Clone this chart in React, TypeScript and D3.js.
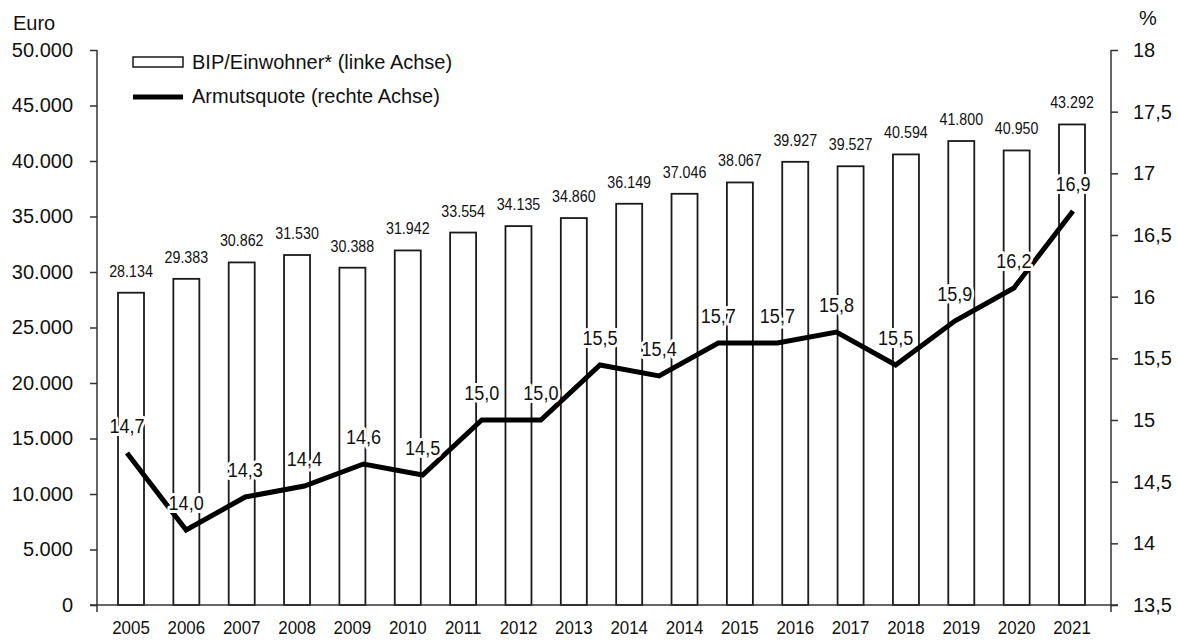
import React, { useEffect, useRef } from "react";
import * as d3 from "d3";

// ---- data ----
const years: string[] = [
  "2005", "2006", "2007", "2008", "2009", "2010", "2011", "2012", "2013",
  "2014", "2014", "2015", "2016", "2017", "2018", "2019", "2020", "2021",
];
const gdpPerCapita: number[] = [
  28134, 29383, 30862, 31530, 30388, 31942, 33554, 34135, 34860,
  36149, 37046, 38067, 39927, 39527, 40594, 41800, 40950, 43292,
];
const povertyRate: number[] = [
  14.7, 14.0, 14.3, 14.4, 14.6, 14.5, 15.0, 15.0, 15.5,
  15.4, 15.7, 15.7, 15.8, 15.5, 15.9, 16.2, 16.9,
];
const leftTicks: number[] = [0, 5000, 10000, 15000, 20000, 25000, 30000, 35000, 40000, 45000, 50000];
const rightTicks: number[] = [13.5, 14, 14.5, 15, 15.5, 16, 16.5, 17, 17.5, 18];
const legendLabels: string[] = ["BIP/Einwohner* (linke Achse)", "Armutsquote (rechte Achse)"];
const leftUnit = "Euro";
const rightUnit = "%";

const W = 1178;
const H = 641;
const SANS = "'Liberation Sans', Arial, Helvetica, sans-serif";
const INK = "#111";

const de = d3.formatLocale({ decimal: ",", thousands: ".", grouping: [3], currency: ["", " €"] });
const fmtThousands = de.format(",");
const fmtOne = de.format(".1f");
const fmtRight = (v: number) => (Number.isInteger(v) ? String(v) : fmtOne(v));

export default function App() {
  const ref = useRef<SVGSVGElement>(null);

  useEffect(() => {
    const svg = d3.select(ref.current);
    svg.selectAll("*").remove();

    const left = 97;
    const right = 1111;
    const top = 50;
    const base = 605;

    const yLeft = d3.scaleLinear().domain([0, 50000]).range([base, top]);
    const yRight = d3.scaleLinear().domain([13.5, 18]).range([base, top]);
    // the published line is drawn on a slightly compressed version of the right scale
    const yLine = d3.scaleLinear().domain([13.5, 18]).range([585, 90]);
    const xBar = d3.scalePoint<number>().domain(d3.range(years.length)).range([131, 1072]);
    const xLine = d3.scalePoint<number>().domain(d3.range(povertyRate.length)).range([127, 1073]);
    const barW = 26;

    svg.append("rect").attr("width", W).attr("height", H).attr("fill", "#fff");

    // bars
    svg.append("g")
      .selectAll("rect")
      .data(gdpPerCapita)
      .join("rect")
      .attr("x", (_d, i) => (xBar(i) as number) - barW / 2)
      .attr("y", (d) => yLeft(d))
      .attr("width", barW)
      .attr("height", (d) => base - yLeft(d))
      .attr("fill", "#fff")
      .attr("stroke", "#1a1a1a")
      .attr("stroke-width", 1.8);

    // bar labels (condensed)
    svg.append("g")
      .selectAll("text")
      .data(gdpPerCapita)
      .join("text")
      .attr("transform", (d, i) => `translate(${xBar(i)},${yLeft(d) - 16}) scale(0.84,1)`)
      .attr("text-anchor", "middle")
      .attr("font-family", SANS)
      .attr("font-size", 17)
      .attr("fill", INK)
      .text((d) => fmtThousands(d));

    // left axis
    const gl = svg.append("g").attr("transform", `translate(${left},0)`);
    gl.call(
      d3.axisLeft(yLeft).tickValues(leftTicks).tickSize(7).tickSizeOuter(0).tickPadding(17)
        .tickFormat((d) => fmtThousands(d as number)) as any
    );
    gl.select(".domain").remove();
    gl.selectAll(".tick line").attr("stroke", "#333").attr("stroke-width", 1.5);
    gl.selectAll(".tick text").attr("font-family", SANS).attr("font-size", 20).attr("fill", INK);

    // right axis
    const gr = svg.append("g").attr("transform", `translate(${right},0)`);
    gr.call(
      d3.axisRight(yRight).tickValues(rightTicks).tickSize(7).tickSizeOuter(0).tickPadding(15)
        .tickFormat((d) => fmtRight(d as number)) as any
    );
    gr.select(".domain").remove();
    gr.selectAll(".tick line").attr("stroke", "#333").attr("stroke-width", 1.5);
    gr.selectAll(".tick text").attr("font-family", SANS).attr("font-size", 20).attr("fill", INK);

    // axis lines
    svg.append("line").attr("x1", left).attr("x2", left).attr("y1", top).attr("y2", base + 7)
      .attr("stroke", "#333").attr("stroke-width", 1.5);
    svg.append("line").attr("x1", right).attr("x2", right).attr("y1", top).attr("y2", base + 7)
      .attr("stroke", "#333").attr("stroke-width", 1.5);
    svg.append("line").attr("x1", left - 7).attr("x2", right + 7).attr("y1", base).attr("y2", base)
      .attr("stroke", "#333").attr("stroke-width", 1.5);

    // x labels
    svg.append("g")
      .selectAll("text")
      .data(years)
      .join("text")
      .attr("transform", (_d, i) => `translate(${xBar(i)},634) scale(0.94,1)`)
      .attr("text-anchor", "middle")
      .attr("font-family", SANS)
      .attr("font-size", 18)
      .attr("fill", INK)
      .text((d) => d);

    // unit labels
    svg.append("text").attr("x", 13).attr("y", 30).attr("font-family", SANS).attr("font-size", 20)
      .attr("fill", INK).text(leftUnit);
    svg.append("text").attr("x", 1139).attr("y", 25).attr("font-family", SANS).attr("font-size", 20)
      .attr("fill", INK).text(rightUnit);

    // line
    const line = d3.line<number>()
      .x((_d, i) => xLine(i) as number)
      .y((d) => yLine(d));
    svg.append("path")
      .datum(povertyRate)
      .attr("d", line)
      .attr("fill", "none")
      .attr("stroke", "#000")
      .attr("stroke-width", 5)
      .attr("stroke-linejoin", "miter");

    // line labels (condensed, white halo)
    svg.append("g")
      .selectAll("text")
      .data(povertyRate)
      .join("text")
      .attr("transform", (d, i) => `translate(${xLine(i)},${yLine(d) - 20}) scale(0.86,1)`)
      .attr("text-anchor", "middle")
      .attr("font-family", SANS)
      .attr("font-size", 21)
      .attr("fill", INK)
      .attr("stroke", "#fff")
      .attr("stroke-width", 6)
      .attr("stroke-linejoin", "round")
      .attr("paint-order", "stroke")
      .text((d) => fmtOne(d));

    // legend
    const lg = svg.append("g");
    lg.append("rect").attr("x", 133).attr("y", 57).attr("width", 50).attr("height", 10)
      .attr("fill", "#fff").attr("stroke", "#1a1a1a").attr("stroke-width", 1.5);
    lg.append("line").attr("x1", 133).attr("x2", 183).attr("y1", 97).attr("y2", 97)
      .attr("stroke", "#000").attr("stroke-width", 5);
    lg.selectAll("text.leg")
      .data(legendLabels)
      .join("text")
      .attr("class", "leg")
      .attr("x", 192)
      .attr("y", (_d, i) => 62 + i * 34)
      .attr("dy", "0.35em")
      .attr("font-family", SANS)
      .attr("font-size", 20)
      .attr("fill", INK)
      .text((d) => d);
  }, []);

  return (
    <svg
      ref={ref}
      width={W}
      height={H}
      viewBox={`0 0 ${W} ${H}`}
      style={{ position: "absolute", left: 0, top: 0, display: "block" }}
    />
  );
}
